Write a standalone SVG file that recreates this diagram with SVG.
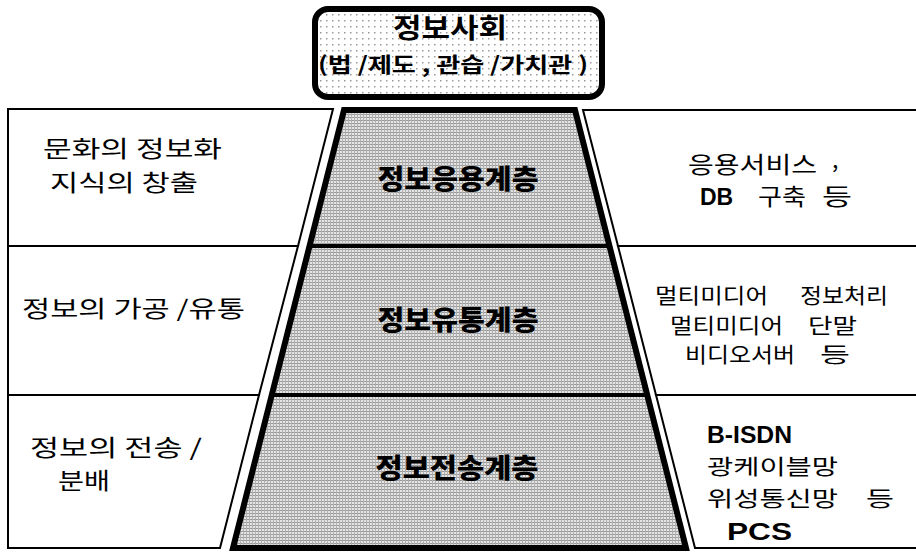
<svg xmlns="http://www.w3.org/2000/svg" width="916" height="555" viewBox="0 0 916 555">
<defs>
<pattern id="mesh" width="3" height="3" patternUnits="userSpaceOnUse">
<rect width="3" height="3" fill="#e4e4e4"/>
<rect width="3" height="1" fill="#9a9a9a"/>
<rect width="1" height="3" fill="#b0b0b0"/>
</pattern>
<pattern id="dots" width="6" height="6" patternUnits="userSpaceOnUse">
<rect width="6" height="6" fill="#ffffff"/>
<rect x="2" y="2" width="1.5" height="1.5" fill="#9a9a9a"/>
</pattern>
<style>
.panel{fill:#fff;stroke:#000;stroke-width:2;stroke-linejoin:miter}
.side{font-family:"Noto Sans CJK KR","Noto Sans",sans-serif;font-size:23px;fill:#000}
.sm{font-size:21px}
.lat{font-family:"Liberation Sans",Arial,sans-serif;font-size:23px;font-weight:bold;fill:#000}
.layer{font-family:"Noto Sans CJK KR","Noto Sans",sans-serif;font-size:27px;font-weight:900;fill:#000;text-anchor:middle}
.div{stroke:#000;stroke-width:4}
</style>
</defs>
<rect width="916" height="555" fill="#fff"/>

<g id="left-panels">
<g id="left-1"><polygon class="panel" points="8,109 333,109 298,246 8,246"/>
<text class="side" x="43" y="157" textLength="179" lengthAdjust="spacingAndGlyphs">문화의 정보화</text>
<text class="side" x="50" y="191" textLength="148" lengthAdjust="spacingAndGlyphs">지식의 창출</text></g>
<g id="left-2"><polygon class="panel" points="8,246 298,246 259,395 8,395"/>
<text class="side" x="22" y="317" textLength="223" lengthAdjust="spacingAndGlyphs">정보의 가공 /유통</text></g>
<g id="left-3"><polygon class="panel" points="8,395 259,395 220,548 8,548"/>
<text class="side" x="30" y="456" textLength="172" lengthAdjust="spacingAndGlyphs">정보의 전송 /</text>
<text class="side" x="58" y="489" textLength="52" lengthAdjust="spacingAndGlyphs">분배</text></g>
</g>

<g id="right-panels">
<g id="right-1"><polygon class="panel" points="583,110 920,110 920,246 618,246"/>
<text class="side" x="688" y="173" textLength="129" lengthAdjust="spacingAndGlyphs">응용서비스</text>
<text class="side" x="832" y="168">,</text>
<text class="lat" x="700" y="205">DB</text>
<text class="side" x="758" y="205" textLength="48" lengthAdjust="spacingAndGlyphs">구축</text>
<text class="side" x="822" y="205" textLength="30" lengthAdjust="spacingAndGlyphs">등</text></g>
<g id="right-2"><polygon class="panel" points="618,246 920,246 920,395 656,395"/>
<text class="side sm" x="655" y="303" textLength="113" lengthAdjust="spacingAndGlyphs">멀티미디어</text>
<text class="side sm" x="800" y="303" textLength="88" lengthAdjust="spacingAndGlyphs">정보처리</text>
<text class="side sm" x="670" y="333" textLength="113" lengthAdjust="spacingAndGlyphs">멀티미디어</text>
<text class="side sm" x="808" y="333" textLength="49" lengthAdjust="spacingAndGlyphs">단말</text>
<text class="side sm" x="685" y="362" textLength="110" lengthAdjust="spacingAndGlyphs">비디오서버</text>
<text class="side sm" x="820" y="362" textLength="30" lengthAdjust="spacingAndGlyphs">등</text></g>
<g id="right-3"><polygon class="panel" points="656,395 920,395 920,548 695,548"/>
<text class="lat" x="707" y="443" textLength="85" lengthAdjust="spacingAndGlyphs">B-ISDN</text>
<text class="side sm" x="707" y="474" textLength="131" lengthAdjust="spacingAndGlyphs">광케이블망</text>
<text class="side sm" x="707" y="506" textLength="131" lengthAdjust="spacingAndGlyphs">위성통신망</text>
<text class="side sm" x="866" y="506" textLength="28" lengthAdjust="spacingAndGlyphs">등</text>
<text class="lat" x="727" y="540" textLength="65" lengthAdjust="spacingAndGlyphs">PCS</text></g>
</g>

<g id="pyramid">
<polygon points="344,110 575,110 686,548 233,548" fill="url(#mesh)"/>
<g id="layer-apply"><text class="layer" x="458" y="189" textLength="161" lengthAdjust="spacingAndGlyphs">정보응용계층</text></g>
<g id="layer-dist"><line class="div" x1="309" y1="246" x2="610" y2="246"/>
<text class="layer" x="458" y="330" textLength="161" lengthAdjust="spacingAndGlyphs">정보유통계층</text></g>
<g id="layer-trans"><line class="div" x1="272" y1="395" x2="647" y2="395"/>
<text class="layer" x="457" y="478" textLength="163" lengthAdjust="spacingAndGlyphs">정보전송계층</text></g>
<polygon points="344,110 575,110 686,548 233,548" fill="none" stroke="#000" stroke-width="6" stroke-linejoin="miter"/>
</g>

<g id="society">
<rect x="315" y="9" width="287" height="88" rx="13" fill="url(#dots)" stroke="#000" stroke-width="6"/>
<text x="450" y="38" font-family="'Noto Sans CJK KR',sans-serif" font-size="27" font-weight="bold" text-anchor="middle" textLength="114" lengthAdjust="spacingAndGlyphs">정보사회</text>
<text x="318" y="72" font-family="'Noto Sans CJK KR',sans-serif" font-size="21" font-weight="bold" textLength="270" lengthAdjust="spacingAndGlyphs">(법 /제도 , 관습 /가치관 )</text>
</g>
</svg>
